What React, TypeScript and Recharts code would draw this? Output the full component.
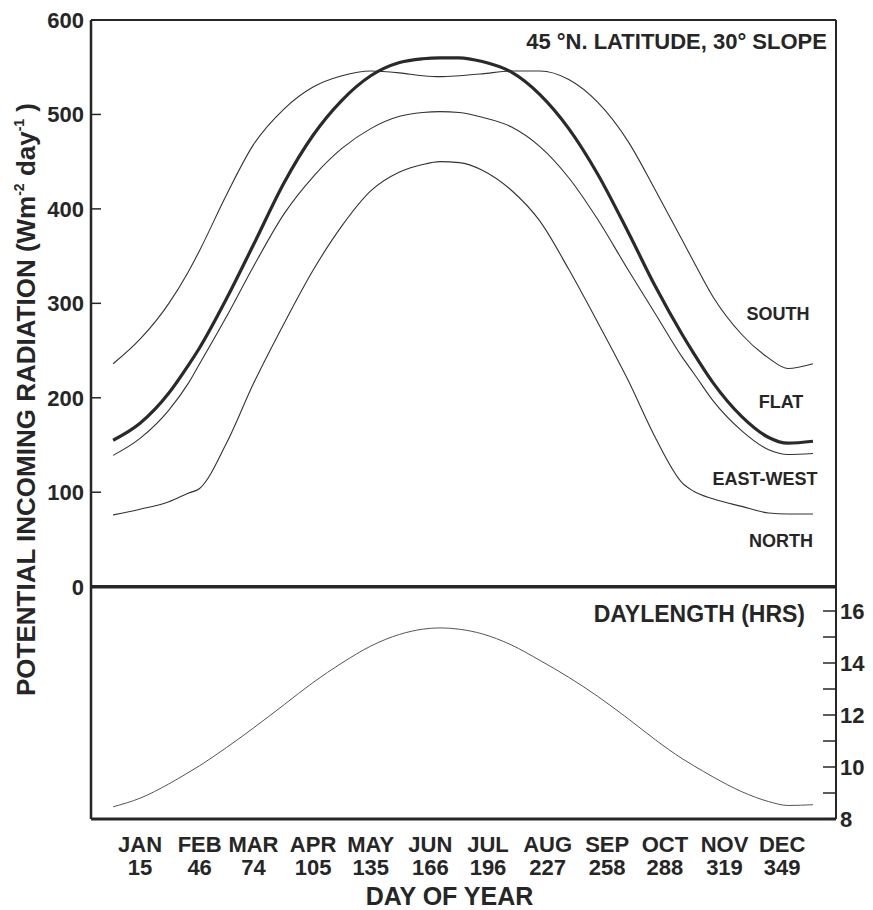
import React from "react";
import {
  ComposedChart,
  Line,
  XAxis,
  YAxis,
  ReferenceLine,
  ReferenceDot,
} from "recharts";

const FONT = "'Liberation Sans', Arial, Helvetica, sans-serif";
const INK = "#262626";

// day of year of each reading
const days = [1, 15, 30, 40, 46, 60, 74, 90, 105, 120, 135, 150, 162, 171, 181, 193, 208, 223, 238, 253, 269, 283, 297, 303, 313, 328, 342, 352, 365];

// potential incoming radiation (W m-2 day-1), 45 N, 30 deg slope
const south = [236, 262, 300, 333, 356, 415, 468, 506, 529, 541, 546, 544, 541, 540, 541, 543, 546, 546, 537, 513, 471, 420, 367, 344, 307, 267, 242, 231, 236];
const flat = [155, 173, 205, 234, 253, 305, 362, 428, 478, 515, 541, 555, 559, 560, 560, 556, 545, 521, 485, 437, 375, 318, 267, 247, 216, 180, 158, 152, 154];
const eastWest = [139, 157, 187, 215, 236, 286, 339, 395, 434, 464, 485, 498, 502, 503, 502, 497, 487, 466, 433, 389, 335, 289, 243, 226, 197, 165, 145, 140, 141];
const north = [76, 82, 90, 99, 104, 152, 215, 279, 335, 382, 419, 439, 447, 450, 449, 441, 420, 387, 336, 280, 218, 158, 110, 101, 93, 85, 78, 77, 77];

// daylength (hours)
const daylength = [8.47, 8.8, 9.35, 9.78, 10.05, 10.75, 11.5, 12.4, 13.25, 14.0, 14.65, 15.1, 15.3, 15.35, 15.3, 15.12, 14.7, 14.1, 13.45, 12.72, 11.85, 11.05, 10.32, 10.05, 9.62, 9.05, 8.67, 8.52, 8.55];

// x axis labels
const months = ["JAN", "FEB", "MAR", "APR", "MAY", "JUN", "JUL", "AUG", "SEP", "OCT", "NOV", "DEC"];
const monthDays = [15, 46, 74, 105, 135, 166, 196, 227, 258, 288, 319, 349];

const radTicks = [0, 100, 200, 300, 400, 500, 600];
const hourTicks = [8, 9, 10, 11, 12, 13, 14, 15, 16];

const textStyle = {
  fontFamily: FONT,
  fontWeight: "bold" as const,
  fill: INK,
};

const MonthTick = (props: any) => {
  const { x, y, payload } = props;
  const i = monthDays.indexOf(payload.value);
  return (
    <g>
      <text x={x} y={y + 33} textAnchor="middle" fontSize={22} {...textStyle}>
        {months[i]}
      </text>
      <text x={x} y={y + 56} textAnchor="middle" fontSize={22} {...textStyle}>
        {payload.value}
      </text>
    </g>
  );
};

const RadTick = (props: any) => {
  const { x, y, payload } = props;
  const v = payload.value;
  return (
    <g>
      {v > 0 && v < 600 && (
        <line x1={x} x2={x + 10} y1={y} y2={y} stroke={INK} strokeWidth={1.5} />
      )}
      <text x={x - 7} y={y + 8} textAnchor="end" fontSize={22} {...textStyle}>
        {v}
      </text>
    </g>
  );
};

const HourTick = (props: any) => {
  const { x, y, payload } = props;
  const v = payload.value;
  return (
    <g>
      <line x1={x - 13} x2={x} y1={y} y2={y} stroke={INK} strokeWidth={1.5} />
      {v % 2 === 0 && (
        <text x={x + 4} y={y + 8} textAnchor="start" fontSize={22} {...textStyle}>
          {v}
        </text>
      )}
    </g>
  );
};

const RadLabel = (props: any) => {
  const { viewBox } = props;
  const cx = viewBox.x + 35;
  const cy = viewBox.y + viewBox.height / 2 - 20;
  return (
    <text
      transform={`translate(${cx},${cy}) rotate(-90)`}
      textAnchor="middle"
      fontSize={26}
      {...textStyle}
    >
      POTENTIAL INCOMING RADIATION (Wm
      <tspan dy={-11} fontSize={14}>-2</tspan>
      <tspan dy={11}> day</tspan>
      <tspan dy={-11} fontSize={14}>-1</tspan>
      <tspan dy={11}> )</tspan>
    </text>
  );
};

const DayLabel = (props: any) => {
  const { viewBox } = props;
  return (
    <text
      x={viewBox.x + viewBox.width / 2 - 14}
      y={viewBox.y + 86}
      textAnchor="middle"
      fontSize={25}
      {...textStyle}
    >
      DAY OF YEAR
    </text>
  );
};

// text pinned to a data point
const note = (text: string, anchor: "start" | "middle" | "end", size: number) =>
  (props: any) => {
    const { viewBox } = props;
    return (
      <text
        x={viewBox.x + viewBox.width / 2}
        y={viewBox.y + viewBox.height / 2}
        textAnchor={anchor}
        fontSize={size}
        {...textStyle}
      >
        {text}
      </text>
    );
  };

export default function App() {
  const rows = days.map((d, i) => ({
    day: d,
    south: south[i],
    flat: flat[i],
    eastWest: eastWest[i],
    north: north[i],
    daylength: daylength[i],
  }));

  return (
    <div
      style={{
        position: "absolute",
        left: 0,
        top: 0,
        width: 873,
        height: 910,
        background: "#fff",
      }}
    >
      <ComposedChart
        width={873}
        height={910}
        data={rows}
        margin={{ top: 20, right: 0, bottom: 0, left: 0 }}
      >
        <XAxis
          dataKey="day"
          type="number"
          domain={[-10.5, 377]}
          allowDataOverflow
          ticks={monthDays}
          interval={0}
          tickSize={0}
          tickMargin={0}
          height={91}
          axisLine={{ stroke: INK, strokeWidth: 3 }}
          tick={(p: any) => <MonthTick {...p} />}
          label={(p: any) => <DayLabel {...p} />}
        />
        <YAxis
          yAxisId="rad"
          type="number"
          domain={[-246, 600]}
          allowDataOverflow
          ticks={radTicks}
          interval={0}
          tickSize={0}
          tickMargin={0}
          width={91}
          axisLine={{ stroke: INK, strokeWidth: 2.5 }}
          tick={(p: any) => <RadTick {...p} />}
          label={(p: any) => <RadLabel {...p} />}
        />
        <YAxis
          yAxisId="day"
          orientation="right"
          type="number"
          domain={[8, 38.73]}
          allowDataOverflow
          ticks={hourTicks}
          interval={0}
          tickSize={0}
          tickMargin={0}
          width={37}
          axisLine={{ stroke: INK, strokeWidth: 2 }}
          tick={(p: any) => <HourTick {...p} />}
        />

        {/* frame top and panel divider */}
        <ReferenceLine yAxisId="rad" y={600} stroke={INK} strokeWidth={2} />
        <ReferenceLine yAxisId="rad" y={0} stroke={INK} strokeWidth={3.5} />

        <Line yAxisId="rad" type="monotone" dataKey="south" stroke="#333" strokeWidth={1.1} dot={false} activeDot={false} isAnimationActive={false} />
        <Line yAxisId="rad" type="monotone" dataKey="eastWest" stroke="#333" strokeWidth={1.1} dot={false} activeDot={false} isAnimationActive={false} />
        <Line yAxisId="rad" type="monotone" dataKey="north" stroke="#333" strokeWidth={1.1} dot={false} activeDot={false} isAnimationActive={false} />
        <Line yAxisId="rad" type="monotone" dataKey="flat" stroke="#2a2a2a" strokeWidth={3.2} dot={false} activeDot={false} isAnimationActive={false} />
        <Line yAxisId="day" type="monotone" dataKey="daylength" stroke="#555" strokeWidth={1} dot={false} activeDot={false} isAnimationActive={false} />

        <ReferenceDot yAxisId="rad" x={372.3} y={569} r={0} stroke="none" fill="none" label={note("45 °N. LATITUDE, 30° SLOPE", "end", 22)} />
        <ReferenceDot yAxisId="rad" x={346.8} y={282.4} r={0} stroke="none" fill="none" label={note("SOUTH", "middle", 18)} />
        <ReferenceDot yAxisId="rad" x={348.4} y={189.2} r={0} stroke="none" fill="none" label={note("FLAT", "middle", 18)} />
        <ReferenceDot yAxisId="rad" x={340.1} y={107.7} r={0} stroke="none" fill="none" label={note("EAST-WEST", "middle", 18)} />
        <ReferenceDot yAxisId="rad" x={348.4} y={42} r={0} stroke="none" fill="none" label={note("NORTH", "middle", 18)} />
        <ReferenceDot yAxisId="day" x={360.9} y={15.58} r={0} stroke="none" fill="none" label={note("DAYLENGTH (HRS)", "end", 23)} />
      </ComposedChart>
    </div>
  );
}
